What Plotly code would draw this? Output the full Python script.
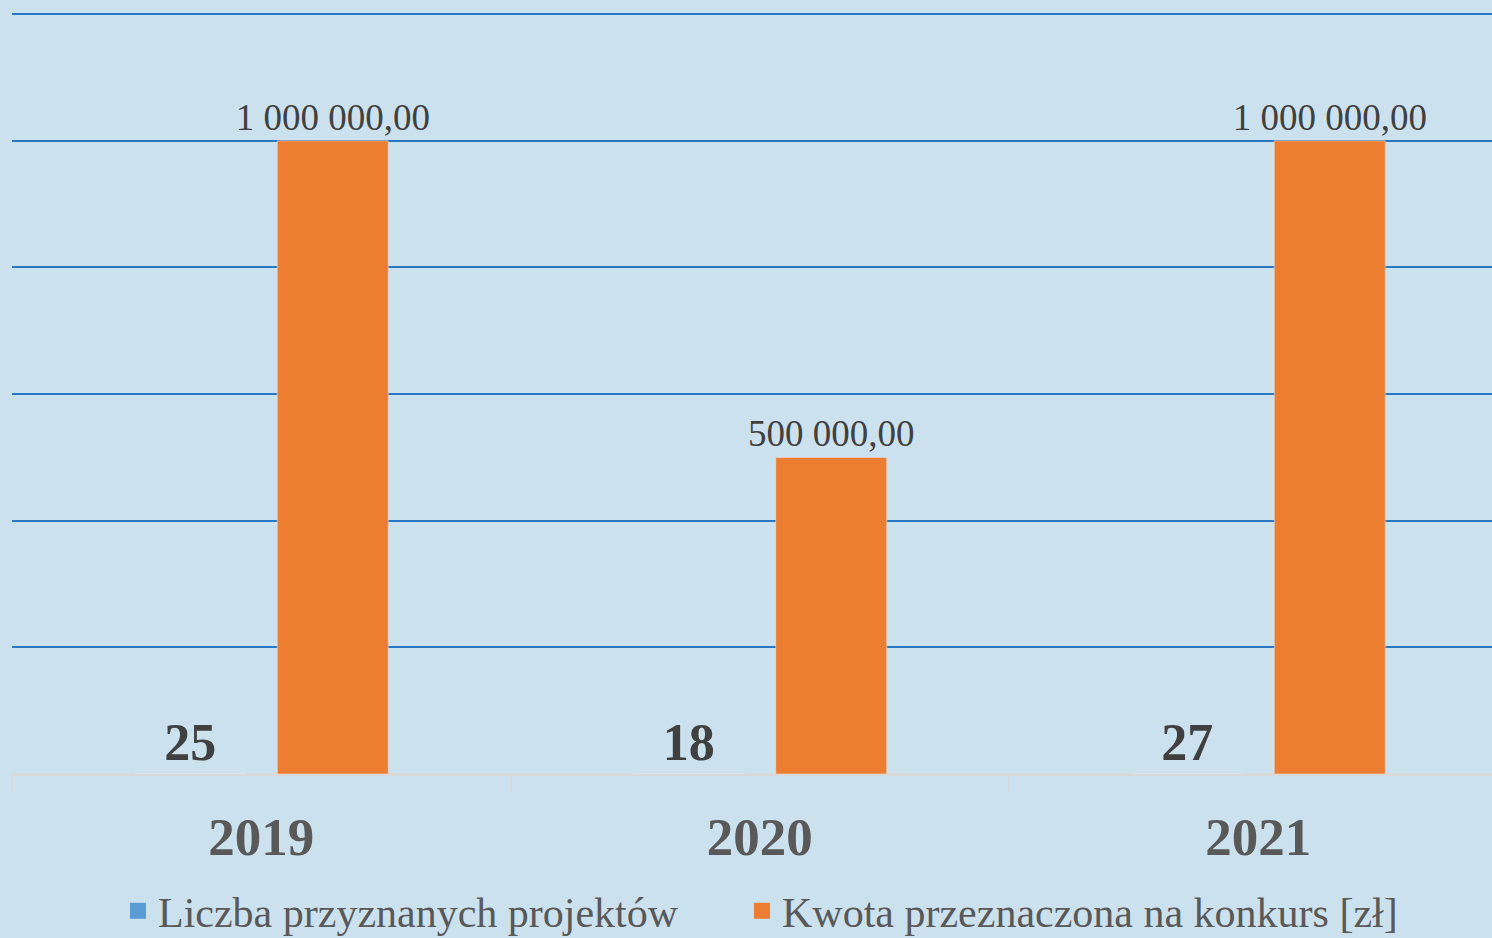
import plotly.graph_objects as go

years = ["2019", "2020", "2021"]
projects = [25, 18, 27]
amounts = [1000000, 500000, 1000000]
series_names = ["Liczba przyznanych projektów", "Kwota przeznaczona na konkurs [zł]"]
y_ticks = [0, 200000, 400000, 600000, 800000, 1000000, 1200000]

BLUE = "#5B9BD5"
ORANGE = "#ED7D31"
BG = "#CCE1EE"
GRID = "#2A78C2"
FONT = "Liberation Serif"

fig = go.Figure()

bw = 111 / 498.5
fig.add_trace(go.Bar(
    x=years, y=projects, name=series_names[0], marker_color=BLUE,
    width=bw, offset=(190 - 261) / 498.5 - bw / 2,
    text=[str(v) for v in projects], textposition="outside",
    outsidetextfont=dict(family=FONT, size=52, color="#404040", weight="bold"),
    constraintext="none", cliponaxis=False, showlegend=False,
))
fig.add_trace(go.Bar(
    x=years, y=amounts, name=series_names[1], marker_color=ORANGE,
    width=bw, offset=(277 - 261) / 498.5,
    texttemplate="%{y:,.2f}", textposition="outside",
    outsidetextfont=dict(family=FONT, size=37, color="#404040"),
    constraintext="none", cliponaxis=False, showlegend=False,
))

# legend entries
for name, col, lg in zip(series_names, [BLUE, ORANGE], ["legend", "legend2"]):
    fig.add_trace(go.Scatter(
        x=[None], y=[None], mode="markers", name=name, legend=lg,
        marker=dict(symbol="square", size=22, color=col),
    ))

leg_common = dict(orientation="h", xref="container", yref="container",
                  xanchor="left", yanchor="middle", y=1 - 911 / 938,
                  font=dict(family=FONT, size=42, color="#595959"),
                  bgcolor="rgba(0,0,0,0)")

fig.update_layout(
    width=1492, height=938,
    margin=dict(l=12, r=0, t=12, b=163.5, autoexpand=False),
    paper_bgcolor=BG, plot_bgcolor=BG,
    separators=", ",
    barmode="group",
    showlegend=True,
    legend=dict(x=(160 - 42) / 1492, **leg_common),
    legend2=dict(x=(784 - 42) / 1492, **leg_common),
    xaxis=dict(type="category", range=[-0.5, 2.5 - 15.5 / 498.5],
               tickson="boundaries", ticks="outside", ticklen=16, tickcolor="#D9D9D9",
               tickwidth=1.5, showgrid=False, showline=True, linecolor="#D9D9D9", linewidth=1.5,
               ticklabelstandoff=16,
               tickfont=dict(family=FONT, size=53, color="#595959", weight="bold")),
    yaxis=dict(range=[0, 1203500], tickvals=y_ticks, showticklabels=False,
               showgrid=True, gridcolor=GRID, gridwidth=1.5,
               zeroline=True, zerolinecolor="#D9D9D9", zerolinewidth=1.5),
)

fig.write_html("out.html", config={"displayModeBar": False},
               post_script="document.body.style.margin='0';document.body.style.background='" + BG + "';")
